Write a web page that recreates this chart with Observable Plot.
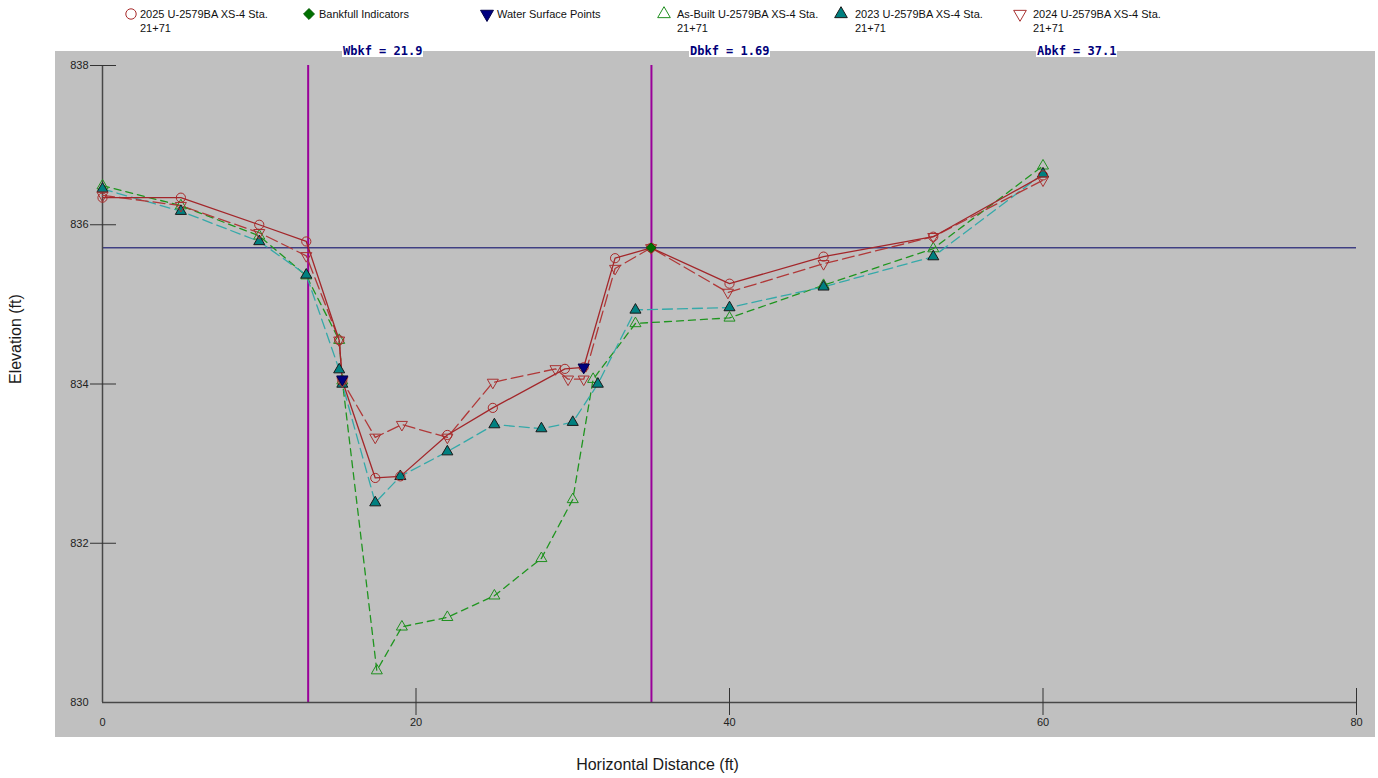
<!DOCTYPE html>
<html>
<head>
<meta charset="utf-8">
<script src="https://cdn.jsdelivr.net/npm/d3@7"></script>
<script src="https://cdn.jsdelivr.net/npm/@observablehq/plot@0.6"></script>
<style>
  html, body { margin: 0; padding: 0; background: #fff; }
  #wrap { position: relative; width: 1378px; height: 778px; font-family: Arial, "Liberation Sans", sans-serif; }
  #legend { position: relative; height: 40px; }
  .item { position: absolute; top: 7px; font-size: 11px; line-height: 14px; color: #111; white-space: nowrap; }
  .item svg { position: absolute; overflow: visible; }
  .stat { position: absolute; top: 44px; height: 13px; line-height: 13px; padding: 0 1px;
          background: #fff; color: #00007a; font: bold 12px "DejaVu Sans Mono", monospace; z-index: 2; }
  #chart svg { display: block; }
</style>
</head>
<body>
<div id="wrap">
  <div id="legend"></div>
  <div id="chart"></div>
</div>
<script>
// Cross-section survey, XS-4 Sta. 21+71: station (ft) vs elevation (ft)
const asBuiltStation = [0, 5.0, 10.0, 13.0, 15.1, 15.3, 17.5, 19.1, 22.0, 25.0, 28.0, 30.0, 31.3, 34.0, 40.0, 46.0, 53.0, 60.0];
const asBuiltElev    = [836.49, 836.24, 835.86, 835.36, 834.55, 834.04, 830.40, 830.95, 831.07, 831.34, 831.81, 832.55, 834.06, 834.76, 834.83, 835.24, 835.70, 836.74];

const s2023Station = [0, 5.0, 10.0, 13.0, 15.1, 15.3, 17.4, 19.0, 22.0, 25.0, 28.0, 30.0, 31.6, 34.0, 40.0, 46.0, 53.0, 60.0];
const s2023Elev    = [836.45, 836.17, 835.79, 835.37, 834.18, 834.00, 832.51, 832.84, 833.15, 833.49, 833.44, 833.52, 834.00, 834.93, 834.96, 835.22, 835.60, 836.64];

const s2024Station = [0, 5.0, 10.0, 13.0, 15.1, 15.3, 17.4, 19.1, 22.0, 24.9, 28.9, 29.7, 30.7, 32.7, 35.0, 39.9, 46.0, 53.0, 60.0];
const s2024Elev    = [836.37, 836.24, 835.90, 835.61, 834.55, 834.04, 833.33, 833.49, 833.33, 834.02, 834.19, 834.06, 834.06, 835.45, 835.71, 835.15, 835.51, 835.85, 836.56];

const s2025Station = [0, 5.0, 10.0, 13.0, 15.1, 15.3, 17.4, 19.0, 22.0, 24.9, 29.5, 30.7, 32.7, 35.0, 40.0, 46.0, 53.0, 60.0];
const s2025Elev    = [836.34, 836.34, 836.00, 835.79, 834.55, 834.04, 832.82, 832.84, 833.36, 833.70, 834.19, 834.21, 835.58, 835.71, 835.26, 835.60, 835.85, 836.62];

const bankfullStation = [35.0];
const bankfullElev    = [835.71];

const waterStation = [15.3, 30.7];
const waterElev    = [834.06, 834.21];

// Bankfull geometry
const bkfStations = [13.12, 35.02];
const bkfElevation = 835.71;
const abkf = 37.1;

const xTicks = [0, 20, 40, 60, 80];
const yTicks = [830, 832, 834, 836, 838];

const seriesLabels = [
  "2025 U-2579BA XS-4 Sta.\n21+71",
  "Bankfull Indicators",
  "Water Surface Points",
  "As-Built U-2579BA XS-4 Sta.\n21+71",
  "2023 U-2579BA XS-4 Sta.\n21+71",
  "2024 U-2579BA XS-4 Sta.\n21+71"
];

const rows = (xs, ys) => xs.map((x, i) => ({x, y: ys[i]}));

// drawing styles, in legend order
const styles = [
  {rows: rows(s2025Station, s2025Elev), line: "#a3262a", dash: null, symbol: "circle", r: 4.6, stroke: "#a82a2a", fill: "none", rotate: 0},
  {rows: rows(bankfullStation, bankfullElev), line: null, symbol: "diamond2", r: 4.3, stroke: "#005a00", fill: "#007000", rotate: 0},
  {rows: rows(waterStation, waterElev), line: null, symbol: "triangle", r: 4.2, stroke: "#00004a", fill: "#000080", rotate: 180},
  {rows: rows(asBuiltStation, asBuiltElev), line: "#1f951f", dash: "7,5", symbol: "triangle", r: 4.1, stroke: "#1f8f1f", fill: "none", rotate: 0},
  {rows: rows(s2023Station, s2023Elev), line: "#35a9a9", dash: "10,5", symbol: "triangle", r: 4.1, stroke: "#1a1a1a", fill: "#008080", rotate: 0},
  {rows: rows(s2024Station, s2024Elev), line: "#b03838", dash: "12,5", symbol: "triangle", r: 4.1, stroke: "#a83232", fill: "none", rotate: 180}
];

// ---- legend ----
const legendMarkerX = [131, 309, 487, 664, 841, 1020];
const legendTextX   = [140, 319, 497, 677, 855, 1033];
const legend = document.getElementById("legend");
seriesLabels.forEach((label, i) => {
  const st = styles[i];
  const item = document.createElement("div");
  item.className = "item";
  item.style.left = legendTextX[i] + "px";
  label.split("\n").forEach(line => {
    const d = document.createElement("div");
    d.textContent = line;
    item.appendChild(d);
  });
  const sw = d3.create("svg").attr("width", 14).attr("height", 14)
    .style("left", (legendMarkerX[i] - legendTextX[i] - 7) + "px").style("top", "0px");
  const type = {circle: d3.symbolCircle, triangle: d3.symbolTriangle, diamond2: d3.symbolDiamond2}[st.symbol];
  sw.append("path")
    .attr("d", d3.symbol(type, Math.PI * (st.r + 0.6) ** 2)())
    .attr("transform", `translate(7,7) rotate(${st.rotate})`)
    .attr("fill", st.fill).attr("stroke", st.stroke).attr("stroke-width", 1);
  item.appendChild(sw.node());
  legend.appendChild(item);
});

// ---- bankfull statistics ----
const wbkf = bkfStations[1] - bkfStations[0];
const dbkf = abkf / wbkf;
const stats = [`Wbkf = ${wbkf.toFixed(1)}`, `Dbkf = ${dbkf.toFixed(2)}`, `Abkf = ${abkf.toFixed(1)}`];
const statX = [342, 689, 1036];
stats.forEach((s, i) => {
  const el = document.createElement("div");
  el.className = "stat";
  el.style.left = statX[i] + "px";
  el.textContent = s;
  document.getElementById("wrap").appendChild(el);
});

// grey panel behind the plotting area
function panel(index, scales, values, dims) {
  const g = d3.create("svg:rect")
    .attr("x", dims.marginLeft - 47)
    .attr("y", dims.marginTop - 14)
    .attr("width", dims.width - 3 - (dims.marginLeft - 47))
    .attr("height", dims.height - 41 - (dims.marginTop - 14))
    .attr("fill", "#c0c0c0");
  return g.node();
}

const marks = [
  panel,
  Plot.ruleX(bkfStations, {stroke: "#990099", strokeWidth: 2}),
  Plot.ruleY([bkfElevation], {stroke: "#000066", strokeWidth: 1}),
  Plot.ruleX([0], {stroke: "#474747", strokeWidth: 1.5}),
  Plot.ruleY([830], {stroke: "#474747", strokeWidth: 1.5}),
  // tick labels
  Plot.axisY({ticks: yTicks, tickSize: 0, tickPadding: 14, fontSize: 11, label: null}),
  Plot.axisX({ticks: xTicks, tickSize: 0, tickPadding: 16, fontSize: 11, label: null}),
  // tick marks crossing the axis lines
  Plot.axisY({ticks: yTicks.slice(1), tickSize: 26, dx: 14, tickFormat: () => "", label: null, stroke: "#333"}),
  Plot.axisX({ticks: xTicks.slice(1), tickSize: 27, dy: -14, tickFormat: () => "", label: null, stroke: "#333"})
];

// lines first, then markers
const drawOrder = [3, 4, 5, 0];
drawOrder.forEach(i => {
  const st = styles[i];
  marks.push(Plot.line(st.rows, {x: "x", y: "y", stroke: st.line, strokeWidth: 1.3, strokeDasharray: st.dash || undefined}));
});
[3, 4, 5, 0, 1, 2].forEach(i => {
  const st = styles[i];
  marks.push(Plot.dot(st.rows, {x: "x", y: "y", symbol: st.symbol, r: st.r, stroke: st.stroke, fill: st.fill, rotate: st.rotate, strokeWidth: 1}));
});

// axis titles
marks.push(Plot.text(["Elevation (ft)"], {frameAnchor: "left", dx: -87, rotate: -90, fontSize: 16, fill: "#1a1a1a"}));
marks.push(Plot.text(["Horizontal Distance (ft)"], {frameAnchor: "bottom", dx: -72, dy: 67, fontSize: 16, fill: "#1a1a1a"}));

const chart = Plot.plot({
  width: 1378,
  height: 738,
  marginLeft: 102,
  marginRight: 22,
  marginTop: 25,
  marginBottom: 76,
  style: {fontFamily: 'Arial, "Liberation Sans", sans-serif', color: "#222", background: "transparent", overflow: "visible"},
  x: {domain: [0, 80]},
  y: {domain: [830, 838]},
  marks
});
document.getElementById("chart").appendChild(chart);
</script>
</body>
</html>
